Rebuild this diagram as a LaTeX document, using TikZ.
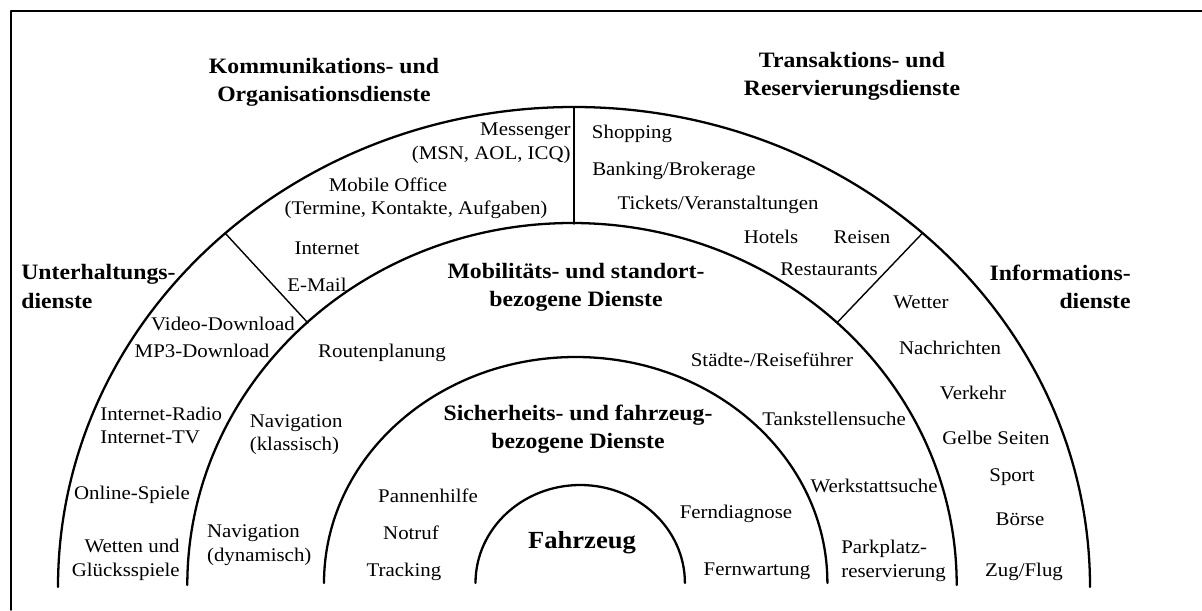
\documentclass[tikz,border=0pt]{standalone}
\usepackage{fontspec}
\setmainfont{Liberation Serif}[FakeStretch=1.08]
\begin{document}
\begin{tikzpicture}[x=0.02cm,y=0.02cm,line join=round,line cap=round,
  every node/.style={inner sep=0pt},font=\fontsize{11}{13.5}\selectfont,
  ring/.style={line width=1.3pt},
  cut/.style={line width=0.8pt},
  head/.style={font=\fontsize{12.5}{16}\selectfont\bfseries,align=center}]
  \useasboundingbox (0,0) rectangle (1202,610);
  % frame
  \draw[line width=1pt] (1202,599) -- (11,599) -- (11,0);
  % rings
  \draw[ring] (475.5,27) arc[start angle=180,end angle=0,x radius=104.7,y radius=98];
  \draw[ring] (324,27) arc[start angle=180,end angle=0,x radius=251.7,y radius=226];
  \draw[ring] (187.3,25) arc[start angle=180,end angle=0,x radius=384.7,y radius=362];
  \draw[ring] (58,23) arc[start angle=180,end angle=0,x radius=516,y radius=480];
  % sector borders
  \draw[cut] (574,503) -- (574,386);
  \draw[cut] (225,377) -- (308,287);
  \draw[cut] (922.6,377) -- (837,287.3);
  % headings
  \node[head] (komm) at (324,528) {Kommunikations- und\\Organisationsdienste};
  \node[head] (trans) at (852,534) {Transaktions- und\\Reservierungsdienste};
  \node[head,anchor=west,align=left] (unter) at (21,323.5) {Unterhaltungs-\\dienste};
  \node[head,anchor=east,align=right] (info) at (1131,323.5) {Informations-\\dienste};
  \node[head] (mobil) at (576,323) {Mobilitäts- und standort-\\bezogene Dienste};
  \node[head] (sicher) at (578,181) {Sicherheits- und fahrzeug-\\bezogene Dienste};
  \node[font=\fontsize{14}{16}\selectfont\bfseries] (fzg) at (582,67) {Fahrzeug};
  % Kommunikation
  \node[anchor=east,align=right] (messenger) at (571,467) {Messenger\\(MSN, AOL, ICQ)};
  \node (office) at (388,425) {Mobile Office};
  \node (termine) at (416,400) {(Termine, Kontakte, Aufgaben)};
  \node (internet) at (327,362) {Internet};
  \node (email) at (317,325) {E-Mail};
  % Unterhaltung
  \node (video) at (223,286) {Video-Download};
  \node (mp3) at (202,259.3) {MP3-Download};
  \node[anchor=west,align=left] (radio) at (100,184.5) {Internet-Radio\\Internet-TV};
  \node (online) at (132,115) {Online-Spiele};
  \node[anchor=east,align=right] (wetten) at (180,50) {Wetten und\\Glücksspiele};
  % Mobilitaet
  \node (routen) at (382,257) {Routenplanung};
  \node[anchor=west,align=left] (navkl) at (249.5,175.3) {Navigation\\(klassisch)};
  \node[anchor=west,align=left] (navdyn) at (206.7,64.5) {Navigation\\(dynamisch)};
  \node (staedte) at (772,250.7) {Städte-/Reiseführer};
  \node (tank) at (834,190.7) {Tankstellensuche};
  \node (werkstatt) at (874,124.3) {Werkstattsuche};
  \node[anchor=west,align=left] (parken) at (841,49) {Parkplatz-\\reservierung};
  % Sicherheit
  \node (pannen) at (428,114) {Pannenhilfe};
  \node (notruf) at (411,77) {Notruf};
  \node (tracking) at (404,38.3) {Tracking};
  \node (diagnose) at (736,96) {Ferndiagnose};
  \node (wartung) at (757,38.3) {Fernwartung};
  % Transaktion
  \node (shopping) at (632,476) {Shopping};
  \node (banking) at (674,439) {Banking/Brokerage};
  \node (tickets) at (718,405) {Tickets/Veranstaltungen};
  \node (hotels) at (771,373.3) {Hotels};
  \node (reisen) at (862,373.3) {Reisen};
  \node (restaurants) at (829,340.7) {Restaurants};
  % Information
  \node (wetter) at (921,308) {Wetter};
  \node (nachrichten) at (950,261.7) {Nachrichten};
  \node (verkehr) at (973,216.7) {Verkehr};
  \node (gelbe) at (996,171.7) {Gelbe Seiten};
  \node (sport) at (1012,132.7) {Sport};
  \node (boerse) at (1020,90.7) {Börse};
  \node (zug) at (1024,38.3) {Zug/Flug};
\end{tikzpicture}
\end{document}
